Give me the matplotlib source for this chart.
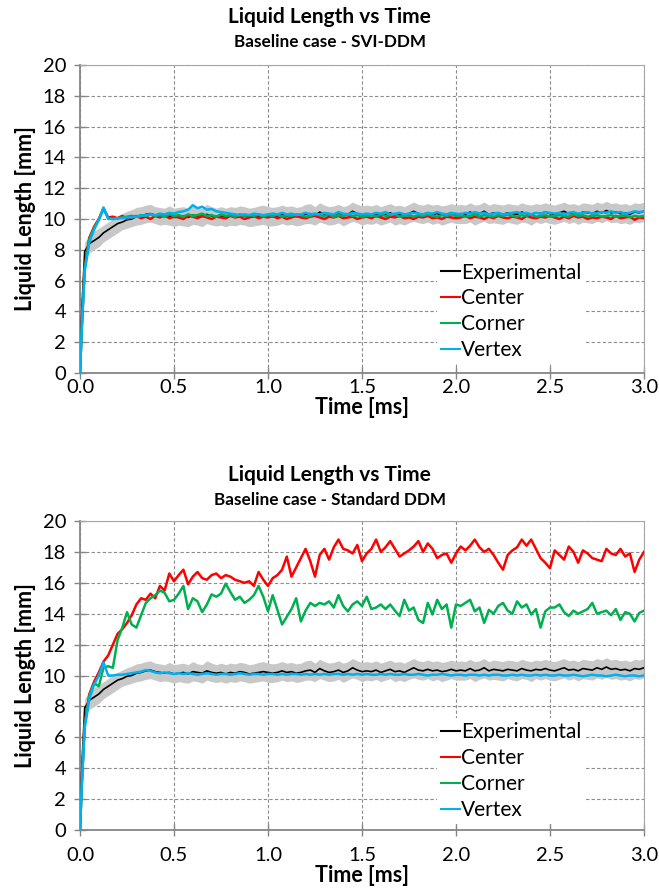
import numpy as np
import matplotlib
matplotlib.use("Agg")
import matplotlib.pyplot as plt

plt.rcParams["font.family"] = ["Lato", "DejaVu Sans"]

# time grid [ms]: 0, 0.01, then every 0.025 ms up to 3.0
time_ms = np.concatenate([[0.0, 0.01], np.round(np.arange(1, 121) * 0.025, 3)])

# experimental liquid length [mm] and its scatter band (same in both panels)
exp_mean = [0.0, 4.2,
            7.9, 8.4, 8.6, 8.8, 9.1, 9.3, 9.5, 9.7, 9.8, 9.95,
            10.0, 10.15, 10.2, 10.3, 10.35, 10.25, 10.2, 10.15, 10.2, 10.1,
            10.15, 10.2, 10.1, 10.25, 10.2, 10.15, 10.3, 10.2, 10.15, 10.2,
            10.1, 10.2, 10.15, 10.25, 10.2, 10.1, 10.15, 10.2, 10.25, 10.2,
            10.15, 10.2, 10.3, 10.2, 10.25, 10.15, 10.2, 10.3, 10.35, 10.2,
            10.45, 10.3, 10.2, 10.25, 10.35, 10.2, 10.3, 10.5, 10.35, 10.25,
            10.3, 10.25, 10.35, 10.2, 10.3, 10.4, 10.25, 10.3, 10.2, 10.35,
            10.5, 10.35, 10.3, 10.4, 10.3, 10.35, 10.25, 10.3, 10.4, 10.3,
            10.35, 10.3, 10.45, 10.3, 10.35, 10.5, 10.3, 10.4, 10.35, 10.3,
            10.4, 10.35, 10.3, 10.45, 10.35, 10.3, 10.4, 10.35, 10.45, 10.35,
            10.3, 10.4, 10.5, 10.35, 10.4, 10.3, 10.45, 10.4, 10.35, 10.5,
            10.4, 10.55, 10.4, 10.45, 10.35, 10.4, 10.3, 10.45, 10.4, 10.5]

exp_hi = [0.0, 5.0,
          8.5, 9.0, 9.2, 9.4, 9.6, 9.8, 10.0, 10.2, 10.35, 10.5,
          10.6, 10.75, 10.8, 10.9, 10.95, 10.8, 10.75, 10.7, 10.85, 10.7,
          10.75, 10.8, 10.7, 10.9, 10.75, 10.7, 10.95, 10.8, 10.7, 10.8,
          10.7, 10.8, 10.75, 10.85, 10.8, 10.7, 10.75, 10.85, 10.9, 10.8,
          10.75, 10.8, 10.9, 10.8, 10.85, 10.75, 10.8, 10.95, 11.0, 10.8,
          11.05, 10.9, 10.8, 10.85, 10.95, 10.8, 10.9, 11.1, 10.95, 10.85,
          10.9, 10.85, 10.95, 10.8, 10.9, 11.0, 10.85, 10.9, 10.8, 10.95,
          11.1, 10.95, 10.9, 11.0, 10.9, 10.95, 10.85, 10.9, 11.0, 10.9,
          10.95, 10.9, 11.05, 10.9, 10.95, 11.1, 10.9, 11.0, 10.95, 10.9,
          11.0, 10.95, 10.9, 11.05, 10.95, 10.9, 11.0, 10.95, 11.05, 10.95,
          10.9, 11.0, 11.1, 10.95, 11.0, 10.9, 11.05, 11.0, 10.95, 11.1,
          11.0, 11.15, 11.0, 11.05, 10.95, 11.0, 10.9, 11.05, 11.0, 11.1]

exp_lo = [0.0, 3.5,
          7.3, 7.8, 8.0, 8.2, 8.5, 8.7, 8.9, 9.1, 9.3, 9.4,
          9.5, 9.6, 9.65, 9.75, 9.8, 9.7, 9.6, 9.65, 9.6, 9.5,
          9.6, 9.55, 9.5, 9.65, 9.6, 9.5, 9.7, 9.6, 9.55, 9.6,
          9.5, 9.6, 9.55, 9.65, 9.6, 9.5, 9.55, 9.6, 9.65, 9.55,
          9.55, 9.6, 9.7, 9.6, 9.65, 9.55, 9.6, 9.7, 9.7, 9.6,
          9.8, 9.7, 9.6, 9.65, 9.75, 9.55, 9.7, 9.85, 9.75, 9.6,
          9.7, 9.65, 9.75, 9.6, 9.7, 9.8, 9.6, 9.7, 9.6, 9.75,
          9.85, 9.75, 9.7, 9.8, 9.65, 9.75, 9.6, 9.7, 9.8, 9.7,
          9.7, 9.7, 9.8, 9.6, 9.75, 9.85, 9.7, 9.75, 9.7, 9.65,
          9.8, 9.7, 9.65, 9.8, 9.75, 9.6, 9.8, 9.7, 9.8, 9.7,
          9.65, 9.75, 9.85, 9.7, 9.8, 9.65, 9.8, 9.75, 9.7, 9.85,
          9.75, 9.9, 9.75, 9.8, 9.7, 9.75, 9.65, 9.8, 9.75, 9.85]

# SVI-DDM
svi_center = [0.0, 3.2,
              6.9, 8.8, 9.5, 10.0, 10.7, 10.1, 10.15, 10.05, 10.2, 10.0,
              10.1, 10.2, 10.05, 10.15, 10.0, 10.2, 10.1, 10.25, 10.05, 10.15,
              10.1, 10.0, 10.2, 10.15, 10.05, 10.2, 10.1, 10.0, 10.15, 10.1,
              10.05, 10.2, 10.1, 10.15, 10.0, 10.1, 10.2, 10.05, 10.15, 10.1,
              10.2, 10.05, 10.15, 10.0, 10.1, 10.2, 10.1, 10.05, 10.15, 10.2,
              10.1, 10.0, 10.15, 10.1, 10.2, 10.05, 10.1, 10.15, 10.0, 10.1,
              10.15, 10.05, 10.2, 10.1, 10.0, 10.15, 10.1, 10.2, 10.05, 10.1,
              10.0, 10.15, 10.1, 10.2, 10.05, 10.1, 10.0, 10.15, 10.1, 10.05,
              10.1, 10.2, 10.05, 10.15, 10.1, 10.0, 10.15, 10.05, 10.2, 10.1,
              10.05, 10.15, 10.1, 10.0, 10.2, 10.1, 10.05, 10.15, 10.1, 10.2,
              10.1, 10.0, 10.15, 10.05, 10.2, 10.1, 10.15, 10.0, 10.1, 10.05,
              10.15, 10.1, 10.0, 10.2, 10.05, 10.1, 10.15, 9.95, 10.1, 10.05]

svi_corner = [0.0, 3.0,
              6.8, 8.7, 9.4, 9.95, 10.65, 10.05, 10.0, 10.05, 10.1, 10.15,
              10.2, 10.15, 10.25, 10.2, 10.3, 10.2, 10.25, 10.15, 10.3, 10.2,
              10.25, 10.15, 10.3, 10.2, 10.25, 10.35, 10.2, 10.25, 10.15, 10.3,
              10.2, 10.25, 10.15, 10.3, 10.2, 10.25, 10.2, 10.3, 10.15, 10.25,
              10.2, 10.3, 10.15, 10.25, 10.2, 10.3, 10.25, 10.15, 10.2, 10.3,
              10.25, 10.2, 10.3, 10.15, 10.25, 10.2, 10.3, 10.2, 10.25, 10.15,
              10.2, 10.25, 10.15, 10.3, 10.2, 10.25, 10.3, 10.15, 10.2, 10.25,
              10.15, 10.25, 10.2, 10.3, 10.2, 10.15, 10.25, 10.2, 10.3, 10.2,
              10.25, 10.15, 10.2, 10.3, 10.15, 10.25, 10.2, 10.15, 10.25, 10.2,
              10.3, 10.2, 10.15, 10.25, 10.2, 10.3, 10.15, 10.2, 10.25, 10.15,
              10.2, 10.25, 10.2, 10.15, 10.3, 10.2, 10.25, 10.15, 10.2, 10.25,
              10.15, 10.2, 10.25, 10.15, 10.2, 10.25, 10.1, 10.2, 10.15, 10.2]

svi_vertex = [0.0, 3.1,
              6.6, 8.5, 9.3, 9.95, 10.75, 10.0, 10.0, 10.05, 10.05, 10.1,
              10.1, 10.15, 10.2, 10.25, 10.3, 10.25, 10.35, 10.3, 10.4, 10.35,
              10.45, 10.5, 10.6, 10.9, 10.7, 10.8, 10.6, 10.65, 10.5, 10.45,
              10.4, 10.35, 10.3, 10.25, 10.3, 10.25, 10.35, 10.3, 10.25, 10.3,
              10.35, 10.3, 10.4, 10.3, 10.35, 10.25, 10.3, 10.4, 10.3, 10.35,
              10.3, 10.4, 10.35, 10.3, 10.45, 10.35, 10.3, 10.4, 10.35, 10.3,
              10.35, 10.3, 10.4, 10.35, 10.45, 10.3, 10.35, 10.4, 10.3, 10.35,
              10.4, 10.35, 10.3, 10.4, 10.35, 10.45, 10.35, 10.3, 10.4, 10.35,
              10.3, 10.4, 10.35, 10.45, 10.35, 10.4, 10.3, 10.35, 10.4, 10.3,
              10.35, 10.4, 10.45, 10.35, 10.4, 10.3, 10.4, 10.35, 10.45, 10.4,
              10.35, 10.4, 10.3, 10.4, 10.45, 10.35, 10.4, 10.45, 10.35, 10.4,
              10.45, 10.4, 10.5, 10.4, 10.45, 10.35, 10.4, 10.5, 10.45, 10.5]

# Standard DDM
std_center = [0.0, 3.2,
              6.9, 8.8, 9.6, 10.2, 10.9, 11.3, 12.0, 12.7, 13.0, 13.4,
              13.9, 14.6, 15.0, 14.9, 15.3, 15.0, 15.8, 15.5, 16.6, 16.1,
              16.5, 16.85, 15.9, 16.4, 16.7, 16.3, 16.2, 16.5, 16.6, 16.3,
              16.5, 16.4, 16.2, 16.1, 16.0, 16.1, 15.8, 16.7, 16.2, 15.8,
              16.3, 16.5, 16.85, 17.7, 16.4, 17.0, 17.6, 18.2, 17.4, 16.4,
              17.8, 18.2, 17.5, 18.3, 18.8, 18.2, 18.1, 17.9, 18.45, 17.4,
              17.9, 18.2, 18.8, 18.0, 18.3, 18.7, 18.2, 17.7, 17.9, 18.1,
              18.35, 18.7, 18.0, 18.55, 18.2, 17.6, 17.8, 17.9, 17.3, 17.9,
              18.35, 18.1, 18.4, 18.8, 18.3, 18.0, 18.2, 17.8, 17.3, 16.85,
              17.8, 18.1, 18.3, 18.8, 18.4, 18.8, 18.2, 17.6, 17.3, 16.95,
              18.1, 17.8, 17.5, 18.35, 18.0, 17.3, 18.1, 17.9, 17.6, 17.5,
              17.4, 18.2, 17.9, 17.8, 18.2, 17.7, 17.9, 16.7, 17.5, 18.0]

std_corner = [0.0, 3.0,
              6.8, 8.7, 9.5, 9.3, 10.5, 10.6, 10.5, 12.3, 13.1, 14.1,
              13.3, 13.1, 13.9, 14.7, 15.0, 15.2, 15.5, 15.35, 14.8, 14.9,
              15.3, 15.8, 14.3, 15.0, 14.8, 14.1, 14.6, 15.25, 15.1, 15.3,
              15.95, 15.4, 14.9, 15.1, 14.7, 14.9, 15.2, 15.8, 15.1, 14.15,
              15.2, 14.25, 13.3, 13.8, 14.3, 15.0, 13.5, 14.2, 14.7, 14.5,
              14.7, 14.6, 14.8, 14.4, 15.2, 14.5, 14.15, 14.6, 14.8, 14.5,
              15.1, 14.3, 14.4, 14.6, 14.3, 14.6, 14.2, 13.85, 14.9, 14.2,
              14.4, 13.6, 13.4, 14.7, 13.95, 14.9, 14.3, 14.6, 13.1, 14.6,
              14.5, 14.7, 14.9, 14.15, 14.4, 13.4, 14.25, 14.0, 14.5, 14.7,
              14.2, 14.0, 14.8, 14.4, 14.6, 13.95, 14.3, 13.1, 14.15, 14.4,
              14.4, 14.6, 14.1, 13.85, 14.2, 14.0, 14.15, 14.3, 14.7, 14.0,
              14.1, 14.2, 13.9, 14.3, 13.6, 14.1, 14.0, 13.5, 14.05, 14.2]

std_vertex = [0.0, 3.1,
              6.6, 8.5, 9.4, 10.0, 10.85, 10.0, 10.0, 10.05, 10.05, 10.1,
              10.15, 10.2, 10.25, 10.35, 10.3, 10.2, 10.15, 10.2, 10.15, 10.1,
              10.15, 10.1, 10.15, 10.1, 10.05, 10.1, 10.15, 10.1, 10.05, 10.1,
              10.1, 10.05, 10.1, 10.15, 10.1, 10.05, 10.1, 10.1, 10.05, 10.1,
              10.1, 10.05, 10.1, 10.05, 10.1, 10.1, 10.05, 10.1, 10.05, 10.1,
              10.05, 10.1, 10.05, 10.1, 10.1, 10.05, 10.1, 10.05, 10.1, 10.05,
              10.1, 10.05, 10.05, 10.1, 10.05, 10.1, 10.05, 10.05, 10.1, 10.05,
              10.05, 10.1, 10.05, 10.0, 10.05, 10.05, 10.1, 10.05, 10.0, 10.05,
              10.05, 10.0, 10.05, 10.05, 10.0, 10.05, 10.0, 10.05, 10.05, 10.0,
              10.0, 10.05, 10.0, 10.05, 10.0, 10.0, 10.05, 10.0, 10.05, 10.0,
              10.0, 10.05, 10.0, 10.0, 10.05, 10.0, 9.95, 10.0, 10.05, 10.0,
              10.0, 9.95, 10.0, 10.05, 10.0, 9.95, 10.0, 10.0, 9.95, 10.0]

series_names = ["Experimental", "Center", "Corner", "Vertex"]
series_colors = ["#000000", "#FF0000", "#00B050", "#00B0F0"]
subtitles = ["Baseline case - SVI-DDM", "Baseline case - Standard DDM"]

GRID_GREY = "#8C8C8C"
AXIS_GREY = "#868686"


def draw_panel(ax, sims, xpad, xlabelpad, leg_y):
    ax.fill_between(time_ms, exp_lo, exp_hi, color="#C8C8C8", lw=0, zorder=1)
    lines = [ax.plot(time_ms, exp_mean, color=series_colors[0], lw=1.2, zorder=3)[0]]
    for vals, c in zip(sims, series_colors[1:]):
        lines.append(ax.plot(time_ms, vals, color=c, lw=1.8, zorder=3)[0])

    ax.set_xlim(0, 3.0)
    ax.set_ylim(0, 20)
    ax.set_xticks(np.arange(0, 3.01, 0.5))
    ax.set_xticklabels([f"{v:.1f}" for v in np.arange(0, 3.01, 0.5)])
    ax.set_yticks(np.arange(0, 21, 2))
    ax.grid(True, color=GRID_GREY, linestyle=(0, (3, 2)), lw=0.8, zorder=0)
    ax.set_axisbelow(True)
    ax.tick_params(labelsize=14.5, length=8, direction="inout",
                   color=AXIS_GREY, width=1)
    ax.tick_params(axis="x", pad=xpad)
    ax.tick_params(axis="y", pad=6)
    for side in ["top", "right"]:
        ax.spines[side].set_color("#A6A6A6")
        ax.spines[side].set_linewidth(0.8)
    for side in ["left", "bottom"]:
        ax.spines[side].set_color(AXIS_GREY)
        ax.spines[side].set_linewidth(1.3)
    ax.set_xlabel("Time [ms]", fontsize=15.5, fontweight="bold", labelpad=xlabelpad)
    ax.set_ylabel("Liquid Length [mm]", fontsize=15.5, fontweight="bold", labelpad=5)

    leg = ax.legend(lines, series_names, loc="upper left",
                    bbox_to_anchor=(0.633, leg_y), fontsize=15,
                    frameon=True, facecolor="white", edgecolor="none",
                    framealpha=1, fancybox=False, handlelength=0.9,
                    handletextpad=0.05, labelspacing=0.28, borderpad=0.2,
                    borderaxespad=0)
    for h in leg.get_lines():
        h.set_linewidth(1.5)
    leg.set_zorder(5)


fig = plt.figure(figsize=(6.59, 8.94), dpi=100)
ax_top = fig.add_axes([0.1214, 0.5828, 0.8558, 0.3445])
ax_bot = fig.add_axes([0.1214, 0.0716, 0.8558, 0.3456])

draw_panel(ax_top, [svi_center, svi_corner, svi_vertex], xpad=0, xlabelpad=1,
           leg_y=0.372)
draw_panel(ax_bot, [std_center, std_corner, std_vertex], xpad=8, xlabelpad=1,
           leg_y=0.362)

for ytitle, ysub, sub in [(0.981, 0.953, subtitles[0]), (0.469, 0.441, subtitles[1])]:
    fig.text(0.5, ytitle, "Liquid Length vs Time", ha="center", va="center",
             fontsize=15, fontweight="bold")
    fig.text(0.5, ysub, sub, ha="center", va="center",
             fontsize=12.3, fontweight="bold")

fig.savefig("out.png", dpi=100)
